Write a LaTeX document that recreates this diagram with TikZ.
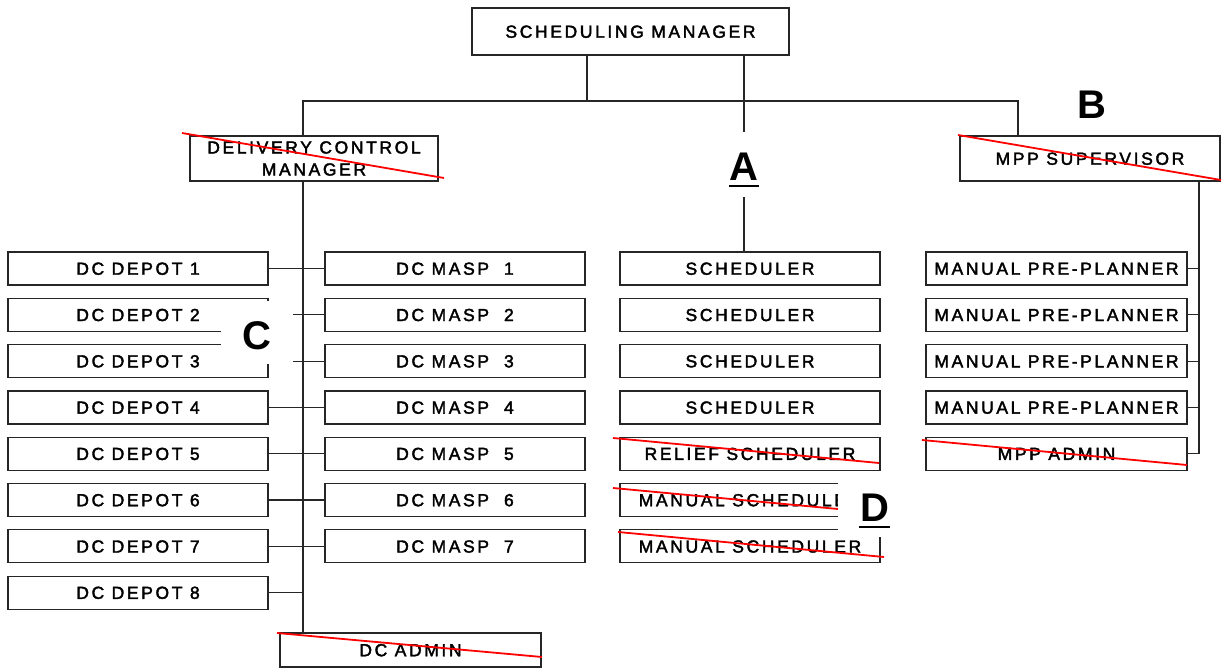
\documentclass[tikz,border=0pt]{standalone}
\usepackage{fontspec}
\newfontfamily\boxfont[LetterSpace=15,FakeBold=2.2]{Liberation Sans}
\newfontfamily\tagfont{Liberation Sans}
\begin{document}
\begin{tikzpicture}[x=1pt,y=-1pt,
  unit/.style={draw=black!85, line width=1.2pt, minimum width=260pt, minimum height=33pt,
    inner sep=0pt, font=\boxfont\fontsize{17.5}{22}\selectfont, text height=12.5pt, text depth=0pt},
  link/.style={draw=black!85, line width=1.2pt},
  strike/.style={draw=red, line width=1.8pt},
  patch/.style={fill=white, draw=none},
  tag/.style={font=\tagfont\bfseries\fontsize{40}{40}\selectfont, inner xsep=0.5pt, inner ysep=0pt,
    text height=28.6pt, text depth=0pt},
  uline/.style={draw=black, line width=2pt}
]
\useasboundingbox (0,0) rectangle (1223,668);

% management boxes
\node[unit, minimum width=317pt, minimum height=47pt] (top) at (630.5,31.5) {SCHEDULING MANAGER};
\node[unit, minimum width=248pt, minimum height=45pt, align=center, text height={}, text depth={}]
  (dcm) at (314,158.5) {DELIVERY CONTROL\\MANAGER};
\node[unit, minimum height=45pt] (mpps) at (1090,158.5) {MPP SUPERVISOR};

% delivery control columns
\foreach \i in {1,...,8}
  \node[unit] (d\i) at (138,{268.5+46.3*(\i-1)}) {DC DEPOT \i};
\foreach \i in {1,...,7}
  \node[unit] (m\i) at (455,{268.5+46.3*(\i-1)}) {DC MASP~~\i};
\node[unit, minimum width=261pt, minimum height=34pt] (dca) at (410.5,650) {DC ADMIN};

% scheduler column
\foreach \i/\t in {1/SCHEDULER,2/SCHEDULER,3/SCHEDULER,4/SCHEDULER,
                   5/RELIEF SCHEDULER,6/MANUAL SCHEDULER,7/MANUAL SCHEDULER}
  \node[unit] (s\i) at (750,{268.5+46.3*(\i-1)}) {\t};

% pre-planner column
\foreach \i/\t in {1/MANUAL PRE-PLANNER,2/MANUAL PRE-PLANNER,3/MANUAL PRE-PLANNER,
                   4/MANUAL PRE-PLANNER,5/MPP ADMIN}
  \node[unit, minimum width=261pt] (p\i) at (1056.5,{268.5+46.3*(\i-1)}) {\t};

% junction points
\coordinate (busL) at (303,101);
\coordinate (busR) at (1018,101);
\coordinate (j1) at (587,101);
\coordinate (ja) at (744,101);
\coordinate (sp) at (303,0);
\coordinate (mp) at (1199,0);

% top level links
\draw[link] (j1 |- top.south) -- (j1);
\draw[link] (busL |- dcm.north) -- (busL) -- (busR) -- (busR |- mpps.north);
\draw[link] (ja |- top.south) -- (ja |- s1.north);

% delivery control spine
\draw[link] (sp |- dcm.south) -- (sp |- dca.north);
\foreach \i in {1,...,7}
  \draw[link] (d\i.east) -- (m\i.west);
\draw[link] (d8.east) -- (sp |- d8.east);

% pre-planner spine
\draw[link] (mp |- mpps.south) -- (mp |- p5.east);
\foreach \i in {1,...,5}
  \draw[link] (p\i.east) -- (mp |- p\i.east);

% struck-out roles
\draw[strike] (182,133) -- (444,178);
\draw[strike] (958,135) -- (1221,180);
\draw[strike] (613,438) -- (879,463);
\draw[strike] (613,488) -- (838,509);
\draw[strike] (618,532) -- (884,557);
\draw[strike] (922,440) -- (1187,465);
\draw[strike] (277,633) -- (542,657);

% cleared areas behind the letters
\fill[patch] (221,301) rectangle (293,364);
\fill[patch] (729,132) rectangle (760,197);
\fill[patch] (838,483) rectangle (895,537);

% letters
\node[tag, inner ysep=6pt] (la) at (744,166) {A};
\draw[uline] (la.south west) -- (la.south east);
\node[tag] (lb) at (1092,104.5) {B};
\node[tag] (lc) at (257,335) {C};
\node[tag, inner ysep=5pt] (ld) at (874.5,507) {D};
\draw[uline] (ld.south west) -- (ld.south east);
\end{tikzpicture}
\end{document}
